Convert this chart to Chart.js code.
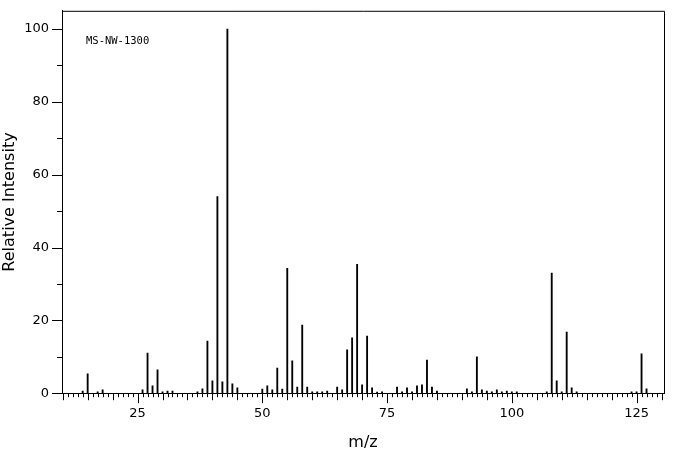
<!DOCTYPE html>
<html>
<head>
<meta charset="utf-8">
<script src="https://cdn.jsdelivr.net/npm/chart.js@4/dist/chart.umd.min.js"></script>
<style>
  body { margin: 0; background: #fff; }
  #wrap { width: 676px; height: 455px; }
</style>
</head>
<body>
<div id="wrap"><canvas id="chart"></canvas></div>
<script>
// m/z values and relative intensities
const masses = [14, 15, 17, 18, 26, 27, 28, 29, 30, 31, 32, 37, 38, 39, 40, 41, 42, 43, 44, 45,
  50, 51, 52, 53, 54, 55, 56, 57, 58, 59, 60, 61, 62, 63, 65, 66, 67, 68, 69, 70, 71, 72, 73, 74,
  77, 78, 79, 80, 81, 82, 83, 84, 85, 91, 92, 93, 94, 95, 96, 97, 98, 99, 100, 101,
  107, 108, 109, 110, 111, 112, 113, 124, 125, 126, 127];
const intensities = [0.6, 5.3, 0.4, 0.9, 0.9, 11.0, 2.0, 6.4, 0.4, 0.6, 0.6, 0.4, 1.2, 14.3, 3.4, 54.0, 3.1, 100, 2.6, 1.5,
  1.1, 2.0, 0.9, 6.9, 1.1, 34.3, 8.9, 1.7, 18.7, 1.7, 0.4, 0.4, 0.4, 0.6, 1.7, 0.9, 11.9, 15.2, 35.4, 2.3, 15.7, 1.5, 0.3, 0.4,
  1.7, 0.4, 1.5, 0.4, 2.0, 2.3, 9.1, 1.7, 0.6, 1.2, 0.4, 10.0, 0.9, 0.6, 0.4, 0.9, 0.4, 0.6, 0.4, 0.4,
  0.4, 33.0, 3.4, 0.4, 16.8, 1.5, 0.4, 0.4, 0.4, 10.8, 1.2];
const xLabelTicks = [25, 50, 75, 100, 125];
const yLabelTicks = [0, 20, 40, 60, 80, 100];
const sampleId = "MS-NW-1300";

const points = masses.map((m, i) => ({ x: m, y: intensities[i] }));

Chart.defaults.font.family = "DejaVu Sans";
Chart.defaults.color = "#000";

// draws the frame, the graded tick marks and the sample id
const frameAndTicks = {
  id: "frameAndTicks",
  afterDraw(chart) {
    const ctx = chart.ctx;
    const a = chart.chartArea;
    const xs = chart.scales.x;
    const ys = chart.scales.y;
    ctx.save();
    ctx.strokeStyle = "#000";
    ctx.lineWidth = 1;
    ctx.beginPath();
    ctx.moveTo(a.left, a.top + 0.5);
    ctx.lineTo(a.right + 0.5, a.top + 0.5);
    ctx.lineTo(a.right + 0.5, a.bottom);
    ctx.stroke();

    ctx.beginPath();
    for (let v = Math.ceil(xs.min); v <= xs.max; v++) {
      const px = Math.round(xs.getPixelForValue(v)) + 0.5;
      const len = v % 25 === 0 ? 10 : (v % 5 === 0 ? 7 : 4);
      ctx.moveTo(px, a.bottom);
      ctx.lineTo(px, a.bottom + len);
    }
    for (let v = 0; v <= ys.max; v += 10) {
      const py = Math.round(ys.getPixelForValue(v)) + 0.5;
      const len = v % 20 === 0 ? 10 : 5;
      ctx.moveTo(a.left, py);
      ctx.lineTo(a.left - len, py);
    }
    ctx.stroke();

    ctx.fillStyle = "#000";
    ctx.font = "10.5px 'DejaVu Sans Mono'";
    ctx.textBaseline = "middle";
    ctx.fillText(sampleId, 86, 41);
    ctx.restore();
  }
};

new Chart(document.getElementById("chart"), {
  type: "bar",
  data: {
    datasets: [{
      data: points,
      backgroundColor: "#000",
      barThickness: 1.2,
      borderWidth: 0
    }]
  },
  options: {
    responsive: true,
    maintainAspectRatio: false,
    animation: false,
    layout: { padding: { left: 0, right: 12, top: 9, bottom: 1 } },
    plugins: { legend: { display: false }, tooltip: { enabled: false } },
    scales: {
      x: {
        type: "linear",
        min: 9.86,
        max: 130.5,
        offset: false,
        grid: { display: true, drawOnChartArea: false, tickLength: 10, tickColor: "rgba(0,0,0,0)", offset: false },
        border: { display: true, color: "#000", width: 1 },
        ticks: {
          stepSize: 1,
          autoSkip: false,
          includeBounds: false,
          maxRotation: 0,
          padding: 3,
          font: { size: 13 },
          callback: v => (xLabelTicks.includes(v) ? v : "")
        },
        title: { display: true, text: "m/z", font: { size: 16 }, padding: { top: 8, bottom: 2 } }
      },
      y: {
        min: 0,
        max: 105,
        grid: { display: true, drawOnChartArea: false, tickLength: 10, tickColor: "rgba(0,0,0,0)" },
        border: { display: true, color: "#000", width: 1 },
        ticks: {
          stepSize: 10,
          includeBounds: false,
          padding: 3,
          font: { size: 13 },
          callback: v => (yLabelTicks.includes(v) ? v : "")
        },
        title: { display: true, text: "Relative Intensity", font: { size: 16 }, padding: { top: 0, bottom: 2 } }
      }
    }
  },
  plugins: [frameAndTicks]
});
</script>
</body>
</html>
